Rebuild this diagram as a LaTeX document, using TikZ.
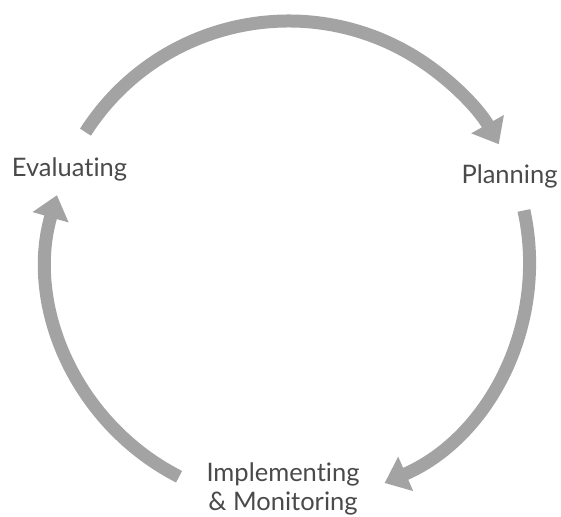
\documentclass[tikz,border=0pt]{standalone}
\usepackage{fontspec}
\setmainfont{Lato}[Ligatures={NoCommon}]
\usetikzlibrary{arrows.meta}
\definecolor{cyclegray}{RGB}{163,163,163}
\definecolor{labelgray}{RGB}{74,74,74}
\begin{document}
\begin{tikzpicture}[x=1pt,y=1pt,
  cyclearrow/.style={draw=cyclegray,line width=13pt,line cap=butt,
    -{Triangle[width=36pt,length=23pt]}},
  stagelabel/.style={text=labelgray,font=\fontsize{25.5}{29}\selectfont,
    inner sep=0pt,align=center,anchor=base}]
\useasboundingbox (0,0) rectangle (561,516);
% centre of the cycle
\coordinate (c) at (288.5,254);
% stage labels
\node[stagelabel] (eval) at (69.5,339) {Evaluating};
\node[stagelabel] (plan) at (509.5,332) {Planning};
\node[stagelabel] (impl) at (283,6) {Implementing\\\& Monitoring};
% ends of the three arcs on the circle
\coordinate (evalOut) at ([shift={(c)}]147.4:241pt);
\coordinate (planOut) at ([shift={(c)}]12.35:241pt);
\coordinate (implOut) at ([shift={(c)}]243:241pt);
% arrows between the stages
\draw[cyclearrow] (evalOut) arc[start angle=147.4,end angle=29.25,radius=241pt];
\draw[cyclearrow] (planOut) arc[start angle=12.35,end angle=-66.5,radius=241pt];
\draw[cyclearrow] (implOut) arc[start angle=243,end angle=163.9,radius=241pt];
\end{tikzpicture}
\end{document}
